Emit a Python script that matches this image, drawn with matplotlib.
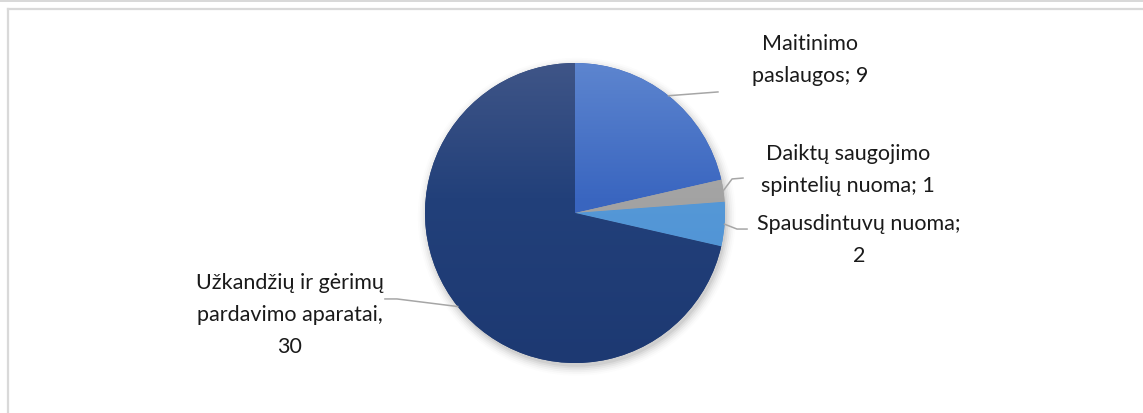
import numpy as np
import matplotlib
matplotlib.use("Agg")
import matplotlib.pyplot as plt
from matplotlib.colors import LinearSegmentedColormap
from matplotlib.patches import Rectangle, Circle

labels = ["Maitinimo\npaslaugos; 9",
          "Daiktų saugojimo\nspintelių nuoma; 1",
          "Spausdintuvų nuoma;\n2",
          "Užkandžių ir gėrimų\npardavimo aparatai,\n30"]
values = [9, 1, 2, 30]
top_colors = ["#5d85cf", "#b0b0b0", "#62a2dc", "#3f5587"]
mid_colors = ["#3a66c0", "#a3a3a3", "#5598d7", "#22407a"]
bottom_colors = ["#3461bb", "#9c9c9c", "#4a8ed3", "#1d3972"]
# label text positions (data units, pie radius = 1) and leader elbows
text_pos = [(1.567, 1.027), (1.82, 0.293), (1.893, -0.173), (-1.90, -0.673)]
elbows = [(0.953, 0.807), (1.047, 0.227), (1.08, -0.107), (-1.187, -0.573)]
elbow_ends = [(0.953, 0.807), (1.12, 0.233), (1.147, -0.107), (-1.267, -0.573)]

W, H = 1143, 414
fig = plt.figure(figsize=(W / 100, H / 100), dpi=100)
fig.patch.set_facecolor("white")

# frame decorations
fig.add_artist(Rectangle((0, 1 - 3 / H), 1, 3 / H, transform=fig.transFigure,
                         color="#d9d9d9", lw=0))
fig.add_artist(plt.Line2D([7.5 / W, 1], [1 - 10 / H, 1 - 10 / H],
                          transform=fig.transFigure, color="#d9d9d9", lw=1.6))
fig.add_artist(plt.Line2D([8 / W, 8 / W], [0, 1 - 10 / H],
                          transform=fig.transFigure, color="#d9d9d9", lw=1.6))

cx, cy, r = 575, 214, 150
ax = fig.add_axes([(cx - r) / W, (H - cy - r) / H, 2 * r / W, 2 * r / H])

# soft shadow
for i, a in enumerate(np.linspace(0.05, 0.012, 6)):
    ax.add_patch(Circle((0.012, -0.025), 1.0 + 0.012 * i, color="black",
                        alpha=a, lw=0, zorder=0, clip_on=False))

wedges, _ = ax.pie(values, startangle=90, counterclock=False, radius=1,
                   wedgeprops=dict(linewidth=0))
ax.set_aspect("equal")
ax.axis("off")

grad = np.linspace(0, 1, 256).reshape(-1, 1)
for w, ct, cm, cb in zip(wedges, top_colors, mid_colors, bottom_colors):
    w.set_facecolor(cb)
    cmap = LinearSegmentedColormap.from_list("g", [(0, ct), (0.45, cm), (1, cb)])
    im = ax.imshow(grad, extent=[-1, 1, -1, 1], cmap=cmap, origin="upper",
                   aspect="auto", zorder=2)
    im.set_clip_path(w)
ax.set_xlim(-1, 1)
ax.set_ylim(-1, 1)

fs = 15.5
for w, lab, tp, el, ee in zip(wedges, labels, text_pos, elbows, elbow_ends):
    th = np.deg2rad((w.theta1 + w.theta2) / 2)
    sx, sy = 1.0 * np.cos(th), 1.0 * np.sin(th)
    ax.plot([sx, el[0], ee[0]], [sy, el[1], ee[1]], color="#a6a6a6",
            lw=1.1, clip_on=False, zorder=3)
    ax.text(tp[0], tp[1], lab, ha="center", va="center", fontsize=fs,
            family="Lato", color="#1a1a1a", linespacing=1.76, clip_on=False)

fig.savefig("out.png", dpi=100)
